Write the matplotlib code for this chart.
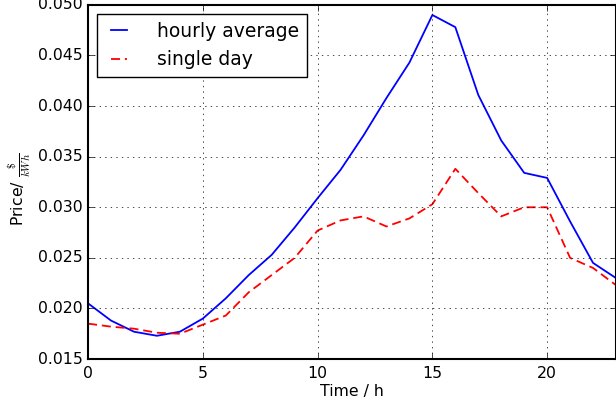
import matplotlib
matplotlib.use("Agg")
import matplotlib.pyplot as plt

# =========================
# DATA
# =========================
hours = list(range(24))

hourly_average = [0.0205, 0.0188, 0.0177, 0.0173, 0.0177, 0.0190, 0.0210, 0.0233,
                  0.0253, 0.0280, 0.0309, 0.0337, 0.0371, 0.0408, 0.0443, 0.0490,
                  0.0478, 0.0411, 0.0366, 0.0334, 0.0329, 0.0286, 0.0245, 0.0230]

single_day = [0.0185, 0.0182, 0.0180, 0.0176, 0.0175, 0.0184, 0.0193, 0.0216,
              0.0233, 0.0250, 0.0277, 0.0287, 0.0291, 0.0281, 0.0289, 0.0303,
              0.0338, 0.0314, 0.0291, 0.0300, 0.0300, 0.0250, 0.0240, 0.0223]

# =========================
# PLOT
# =========================
plt.style.use("classic")
plt.rcParams["font.size"] = 11.3
plt.rcParams["axes.linewidth"] = 1.5
plt.rcParams["lines.scale_dashes"] = False
plt.rcParams["xtick.major.pad"] = 5
plt.rcParams["ytick.major.pad"] = 4

fig = plt.figure(figsize=(6.16, 4.08), dpi=100, facecolor="white")
ax = fig.add_axes([0.143, 0.12, 0.857, 0.868])

ax.plot(hours, hourly_average, color="b", linestyle="-", lw=1.3,
        label="hourly average")
ax.plot(hours, single_day, color="r", linestyle="--", lw=1.3, dashes=(6.5, 3.5),
        label="single day")

ax.set_xlim(0, 23)
ax.set_ylim(0.015, 0.050)
ax.set_xlabel("Time / h", labelpad=2)
ax.set_ylabel(r"Price/ $\frac{\$}{kWh}$")
ax.yaxis.set_label_coords(-0.104, 0.48)
ax.grid(True)
ax.legend(loc="upper left", fontsize=13.5, handlelength=1.45, handletextpad=1.35)

fig.savefig("out.png", dpi=100, facecolor="white")
